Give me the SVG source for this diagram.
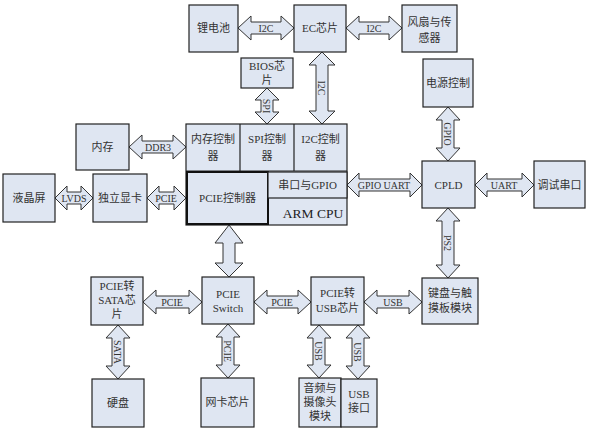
<svg xmlns="http://www.w3.org/2000/svg" width="589" height="431" viewBox="0 0 589 431">
<style>
.box{fill:#dfe6f2;stroke:#222;stroke-width:1.2}
.thick{fill:#dfe6f2;stroke:#111;stroke-width:2}
.arr{fill:#dfe6f2;stroke:#333;stroke-width:1}
text{font-family:"Liberation Serif","Noto Sans CJK SC",serif;font-size:11px;fill:#333;text-anchor:middle}
.lbl{font-size:10px}
.big{font-size:13.5px;fill:#222}
</style>
<rect width="589" height="431" fill="#ffffff"/>
<g id="connectors">
<path class="arr" d="M238,28 L251,16 L251,22 L281,22 L281,16 L294,28 L281,40 L281,34 L251,34 L251,40 Z"/>
<text class="lbl" x="266" y="32">I2C</text>
<path class="arr" d="M346,28 L359,16 L359,22 L389,22 L389,16 L402,28 L389,40 L389,34 L359,34 L359,40 Z"/>
<text class="lbl" x="374" y="32">I2C</text>
<path class="arr" d="M267,88 L279,100 L273,100 L273,112 L279,112 L267,124 L255,112 L261,112 L261,100 L255,100 Z"/>
<text class="lbl" transform="rotate(90 267 106)" x="267" y="110">SPI</text>
<path class="arr" d="M322,52 L335,65 L328,65 L328,111 L335,111 L322,124 L309,111 L316,111 L316,65 L309,65 Z"/>
<text class="lbl" transform="rotate(90 322 88)" x="322" y="92">I2C</text>
<path class="arr" d="M129,147 L142,135 L142,141 L173,141 L173,135 L186,147 L173,159 L173,153 L142,153 L142,159 Z"/>
<text class="lbl" x="158" y="151">DDR3</text>
<path class="arr" d="M55,198 L67,186 L67,192 L81,192 L81,186 L93,198 L81,210 L81,204 L67,204 L67,210 Z"/>
<text class="lbl" x="74" y="202">LVDS</text>
<path class="arr" d="M147,198 L159,186 L159,192 L174,192 L174,186 L186,198 L174,210 L174,204 L159,204 L159,210 Z"/>
<text class="lbl" x="166" y="202">PCIE</text>
<path class="arr" d="M347,185 L359,173 L359,179 L410,179 L410,173 L422,185 L410,197 L410,191 L359,191 L359,197 Z"/>
<text class="lbl" x="384" y="189">GPIO UART</text>
<path class="arr" d="M475,185 L487,173 L487,179 L522,179 L522,173 L534,185 L522,197 L522,191 L487,191 L487,197 Z"/>
<text class="lbl" x="504" y="189">UART</text>
<path class="arr" d="M448,107 L460,120 L454,120 L454,148 L460,148 L448,161 L436,148 L442,148 L442,120 L436,120 Z"/>
<text class="lbl" transform="rotate(90 448 134)" x="448" y="138">GPIO</text>
<path class="arr" d="M448,208 L460,221 L454,221 L454,265 L460,265 L448,278 L436,265 L442,265 L442,221 L436,221 Z"/>
<text class="lbl" transform="rotate(90 448 243)" x="448" y="247">PS2</text>
<path class="arr" d="M229,225 L243,243 L235,243 L235,263 L243,263 L229,277 L215,263 L223,263 L223,243 L215,243 Z"/>
<path class="arr" d="M143,302 L156,290 L156,296 L189,296 L189,290 L202,302 L189,314 L189,308 L156,308 L156,314 Z"/>
<text class="lbl" x="172" y="306">PCIE</text>
<path class="arr" d="M254,302 L267,290 L267,296 L298,296 L298,290 L311,302 L298,314 L298,308 L267,308 L267,314 Z"/>
<text class="lbl" x="282" y="306">PCIE</text>
<path class="arr" d="M364,302 L377,290 L377,296 L409,296 L409,290 L422,302 L409,314 L409,308 L377,308 L377,314 Z"/>
<text class="lbl" x="393" y="306">USB</text>
<path class="arr" d="M118,325 L130,338 L124,338 L124,366 L130,366 L118,379 L106,366 L112,366 L112,338 L106,338 Z"/>
<text class="lbl" transform="rotate(90 118 352)" x="118" y="356">SATA</text>
<path class="arr" d="M228,324 L240,337 L234,337 L234,365 L240,365 L228,378 L216,365 L222,365 L222,337 L216,337 Z"/>
<text class="lbl" transform="rotate(90 228 351)" x="228" y="355">PCIE</text>
<path class="arr" d="M319,325 L331,338 L325,338 L325,365 L331,365 L319,378 L307,365 L313,365 L313,338 L307,338 Z"/>
<text class="lbl" transform="rotate(90 319 351)" x="319" y="355">USB</text>
<path class="arr" d="M358,325 L370,338 L364,338 L364,366 L370,366 L358,379 L346,366 L352,366 L352,338 L346,338 Z"/>
<text class="lbl" transform="rotate(90 358 352)" x="358" y="356">USB</text>
</g>
<g id="battery"><rect class="box" x="189" y="5" width="49" height="47"/><text x="213.5" y="32">锂电池</text></g>
<g id="ec"><rect class="box" x="294" y="5" width="52" height="47"/><text x="320" y="32">EC芯片</text></g>
<g id="fan"><rect class="box" x="402" y="5" width="55" height="47"/><text x="429.5" y="26">风扇与传</text><text x="429.5" y="42">感器</text></g>
<g id="bios"><rect class="box" x="241" y="58" width="52" height="30"/><text x="267" y="70">BIOS芯</text><text x="267" y="84">片</text></g>
<g id="power"><rect class="box" x="423" y="59" width="50" height="48"/><text x="448" y="87">电源控制</text></g>
<g id="memory"><rect class="box" x="76" y="124" width="53" height="46"/><text x="102.5" y="151">内存</text></g>
<g id="arm">
<rect class="box" x="186" y="124" width="161" height="101"/>
<line x1="186" y1="171" x2="347" y2="171" stroke="#222" stroke-width="1.2"/>
<line x1="240" y1="124" x2="240" y2="171" stroke="#222" stroke-width="1.2"/>
<line x1="294" y1="124" x2="294" y2="171" stroke="#222" stroke-width="1.2"/>
<text x="213" y="143">内存控制</text><text x="213" y="160">器</text>
<text x="267" y="143">SPI控制</text><text x="267" y="160">器</text>
<text x="320.5" y="143">I2C控制</text><text x="320.5" y="160">器</text>
<rect class="thick" x="187" y="172" width="81" height="52"/>
<text x="227.5" y="202">PCIE控制器</text>
<rect class="box" x="268" y="172" width="79" height="26"/>
<text x="307.5" y="189">串口与GPIO</text>
<text class="big" x="313" y="218">ARM CPU</text>
</g>
<g id="lcd"><rect class="box" x="3" y="174" width="52" height="48"/><text x="29" y="202">液晶屏</text></g>
<g id="gpu"><rect class="box" x="93" y="174" width="54" height="48"/><text x="120" y="202">独立显卡</text></g>
<g id="cpld"><rect class="box" x="422" y="161" width="53" height="47"/><text x="448.5" y="189">CPLD</text></g>
<g id="debug"><rect class="box" x="534" y="161" width="51" height="47"/><text x="559.5" y="189">调试串口</text></g>
<g id="sata"><rect class="box" x="91" y="277" width="52" height="48"/><text x="117" y="290">PCIE转</text><text x="117" y="304">SATA芯</text><text x="117" y="318">片</text></g>
<g id="switch"><rect class="box" x="202" y="277" width="52" height="47"/><text x="228" y="298">PCIE</text><text x="228" y="312">Switch</text></g>
<g id="usbchip"><rect class="box" x="311" y="277" width="53" height="48"/><text x="337.5" y="297">PCIE转</text><text x="337.5" y="312">USB芯片</text></g>
<g id="keyboard"><rect class="box" x="422" y="278" width="56" height="46"/><text x="450" y="297">键盘与触</text><text x="450" y="312">摸板模块</text></g>
<g id="disk"><rect class="box" x="92" y="379" width="52" height="48"/><text x="118" y="407">硬盘</text></g>
<g id="nic"><rect class="box" x="201" y="378" width="53" height="49"/><text x="227.5" y="406">网卡芯片</text></g>
<g id="audio"><rect class="box" x="299" y="378" width="42" height="49"/><text x="320" y="392">音频与</text><text x="320" y="406">摄像头</text><text x="320" y="420">模块</text></g>
<g id="usbport"><rect class="box" x="341" y="379" width="36" height="48"/><text x="359" y="398">USB</text><text x="359" y="412">接口</text></g>
</svg>
